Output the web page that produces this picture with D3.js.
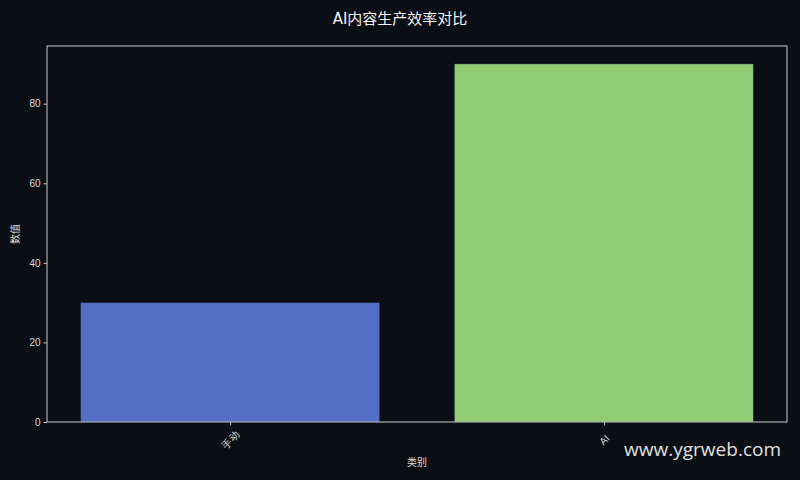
<!DOCTYPE html>
<html>
<head>
<meta charset="utf-8">
<script src="https://cdn.jsdelivr.net/npm/d3@7"></script>
<style>
  body { margin: 0; background: #0b0e14; }
  svg { display: block; font-family: "DejaVu Sans", "Noto Sans CJK SC", sans-serif; }
</style>
</head>
<body>
<svg width="800" height="480"></svg>
<script>
// chart data
const categories = ['手动', 'AI'];
const values = [30, 90];
const barColors = ['#5470c6', '#91cc75'];
const yTicks = [0, 20, 40, 60, 80];

const svg = d3.select('svg');
const margin = { top: 46, right: 13, bottom: 58, left: 47 };
const width = 800 - margin.left - margin.right;
const height = 480 - margin.top - margin.bottom;

svg.append('rect')
  .attr('width', 800).attr('height', 480)
  .attr('fill', '#0b0e14');

// matplotlib style: bars at integer positions, width 0.8, 5% margins
const x = d3.scaleLinear()
  .domain([-0.49, categories.length - 1 + 0.49])
  .range([0, width]);
const y = d3.scaleLinear()
  .domain([0, d3.max(values) * 1.05])
  .range([height, 0]);

const g = svg.append('g')
  .attr('transform', `translate(${margin.left},${margin.top})`);

g.selectAll('rect.bar')
  .data(values)
  .enter().append('rect')
    .attr('class', 'bar')
    .attr('x', (d, i) => x(i - 0.4))
    .attr('y', d => y(d))
    .attr('width', x(0.8) - x(0))
    .attr('height', d => height - y(d))
    .attr('fill', (d, i) => barColors[i])
    .attr('stroke', 'rgba(20,30,50,0.5)')
    .attr('stroke-width', 0.8);

// frame
g.append('rect')
  .attr('width', width).attr('height', height)
  .attr('fill', 'none')
  .attr('stroke', '#c8c8c8')
  .attr('stroke-width', 1);

// y axis
const yAxis = g.append('g')
  .call(d3.axisLeft(y).tickValues(yTicks).tickSize(3.5).tickPadding(3));
yAxis.select('.domain').remove();
yAxis.selectAll('line').attr('stroke', '#c8c8c8');
yAxis.selectAll('text').attr('fill', '#dddddd').attr('font-size', 10);

// x axis, labels rotated 45° and centred on the tick
const xAxis = g.append('g')
  .attr('transform', `translate(0,${height})`)
  .call(d3.axisBottom(x).tickValues(d3.range(categories.length))
    .tickFormat(i => categories[i]).tickSize(3.5).tickPadding(3));
xAxis.select('.domain').remove();
xAxis.selectAll('line').attr('stroke', '#c8c8c8');
xAxis.selectAll('text')
  .attr('fill', '#dddddd')
  .attr('font-size', 10)
  .attr('text-anchor', 'middle')
  .attr('y', 0)
  .attr('dy', '0.35em')
  .attr('transform', 'translate(0,18) rotate(-45)');

// labels
svg.append('text')
  .attr('x', 400).attr('y', 24)
  .attr('text-anchor', 'middle')
  .attr('fill', '#f2f2f2')
  .attr('font-size', 15)
  .text('AI内容生产效率对比');

svg.append('text')
  .attr('x', margin.left + width / 2).attr('y', 466)
  .attr('text-anchor', 'middle')
  .attr('fill', '#dddddd')
  .attr('font-size', 10)
  .text('类别');

svg.append('text')
  .attr('transform', `translate(19,${margin.top + height / 2}) rotate(-90)`)
  .attr('text-anchor', 'middle')
  .attr('fill', '#dddddd')
  .attr('font-size', 10)
  .text('数值');

// watermark
svg.append('text')
  .attr('x', 781).attr('y', 456)
  .attr('text-anchor', 'end')
  .attr('fill', '#e0e0e0')
  .attr('font-family', '"Open Sans", "Noto Sans", sans-serif')
  .attr('font-size', 19)
  .text('www.ygrweb.com');
</script>
</body>
</html>
